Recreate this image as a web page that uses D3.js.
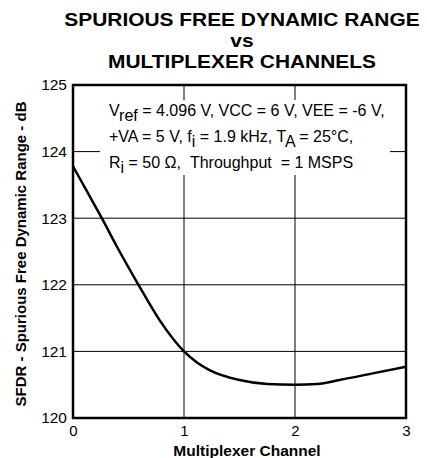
<!DOCTYPE html>
<html>
<head>
<meta charset="utf-8">
<script src="https://cdn.jsdelivr.net/npm/d3@7"></script>
<style>
  html, body { margin: 0; padding: 0; background: #fff; }
  svg { display: block; font-family: "Liberation Sans", Arial, sans-serif; }
</style>
</head>
<body>
<svg id="chart" width="427" height="458"></svg>
<script>
// SFDR vs multiplexer channel
const channel = [0, 0.13, 0.26, 0.4, 0.59, 0.78, 1.0, 1.12, 1.23, 1.5, 1.75, 2.0, 2.2, 2.4, 2.7, 3.0];
const sfdr    = [123.78, 123.39, 123.0, 122.56, 122.0, 121.47, 121.0, 120.83, 120.72, 120.57, 120.51, 120.5, 120.51, 120.57, 120.67, 120.77];

const xTicks = [0, 1, 2, 3];
const yTicks = [120, 121, 122, 123, 124, 125];

const titleLines = ["SPURIOUS FREE DYNAMIC RANGE", "vs", "MULTIPLEXER CHANNELS"];
const xTitle = "Multiplexer Channel";
const yTitle = "SFDR - Spurious Free Dynamic Range - dB";

const svg = d3.select("#chart");
const m = { left: 73, right: 406, top: 85, bottom: 418 };

const x = d3.scaleLinear().domain([0, 3]).range([m.left, m.right]);
const y = d3.scaleLinear().domain([120, 125]).range([m.bottom, m.top]);

// title: three stacked bold lines, slightly widened
svg.append("g").attr("transform", "translate(242,0) scale(1.1,1)")
  .selectAll("text").data(titleLines).join("text")
  .attr("x", 0).attr("y", (d, i) => 26 + i * 21.2)
  .attr("text-anchor", "middle")
  .attr("font-size", 19).attr("font-weight", "bold")
  .text(d => d);

// grid
const grid = svg.append("g").attr("stroke", "#000").attr("stroke-width", 1);
grid.selectAll("line.v").data(xTicks.slice(1, -1)).join("line")
  .attr("x1", d => x(d)).attr("x2", d => x(d))
  .attr("y1", m.top).attr("y2", m.bottom);
grid.selectAll("line.h").data(yTicks.slice(1, -1)).join("line")
  .attr("x1", m.left).attr("x2", m.right)
  .attr("y1", d => y(d)).attr("y2", d => y(d));

// annotation box (white background hides grid)
svg.append("rect").attr("x", 100).attr("y", 100).attr("width", 290).attr("height", 75).attr("fill", "#fff");

const note = svg.append("text").attr("font-size", 16).attr("fill", "#000").style("white-space", "pre");
const l1 = note.append("tspan").attr("x", 109).attr("y", 116);
l1.append("tspan").text("V");
l1.append("tspan").attr("dy", 5).text("ref");
l1.append("tspan").attr("dy", -5).text(" = 4.096 V, VCC = 6 V, VEE = -6 V,");
const l2 = note.append("tspan").attr("x", 109).attr("y", 141.7);
l2.append("tspan").text("+VA = 5 V, f");
l2.append("tspan").attr("dy", 5).text("i");
l2.append("tspan").attr("dy", -5).text(" = 1.9 kHz, T");
l2.append("tspan").attr("dy", 5).text("A");
l2.append("tspan").attr("dy", -5).text(" = 25°C,");
const l3 = note.append("tspan").attr("x", 109).attr("y", 167.5);
l3.append("tspan").text("R");
l3.append("tspan").attr("dy", 5).text("i");
l3.append("tspan").attr("dy", -5).text(" = 50 Ω,  Throughput  = 1 MSPS");

// curve
svg.append("path")
  .datum(channel.map((c, i) => [c, sfdr[i]]))
  .attr("fill", "none").attr("stroke", "#000").attr("stroke-width", 2.5)
  .attr("d", d3.line().x(d => x(d[0])).y(d => y(d[1])).curve(d3.curveMonotoneX));

// frame
svg.append("rect").attr("x", m.left).attr("y", m.top)
  .attr("width", m.right - m.left).attr("height", m.bottom - m.top)
  .attr("fill", "none").attr("stroke", "#000").attr("stroke-width", 2.5);

// axes labels
const xAxis = d3.axisBottom(x).tickValues(xTicks).tickFormat(d3.format("d")).tickSize(0).tickPadding(7);
const gx = svg.append("g").attr("transform", `translate(0,${m.bottom})`).call(xAxis);
gx.select(".domain").remove();
gx.selectAll("text").attr("font-size", 15).attr("font-family", "Liberation Sans, Arial, sans-serif");

const yAxis = d3.axisLeft(y).tickValues(yTicks).tickFormat(d3.format("d")).tickSize(0).tickPadding(6);
const gy = svg.append("g").attr("transform", `translate(${m.left},0)`).call(yAxis);
gy.select(".domain").remove();
gy.selectAll("text").attr("font-size", 15.5).attr("font-family", "Liberation Sans, Arial, sans-serif");

svg.append("text").attr("x", 247).attr("y", 456)
  .attr("text-anchor", "middle").attr("font-size", 15.5).attr("font-weight", "bold").text(xTitle);

svg.append("text").attr("transform", `translate(26,254) rotate(-90)`)
  .attr("text-anchor", "middle").attr("font-size", 15).attr("font-weight", "bold").text(yTitle);
</script>
</body>
</html>
